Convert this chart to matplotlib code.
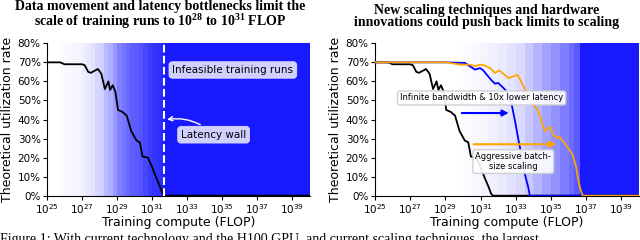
import matplotlib
matplotlib.use("Agg")
import matplotlib.pyplot as plt

# log10 of training compute (FLOP) and utilization (%)
base_x = [25.0, 25.75, 26.0, 27.0, 27.15, 27.35, 27.5, 27.7, 27.9, 28.1, 28.3, 28.5,
          28.6, 28.75, 28.9, 29.05, 29.3, 29.55, 29.8, 30.1, 30.3, 30.45, 30.75,
          30.95, 31.25, 31.45, 31.6, 31.7, 40.0]
base_y = [70, 70, 69, 69, 68.5, 65, 64.5, 65.5, 66.5, 64, 56, 60, 55.5, 58, 54.5,
          45, 44, 42, 34, 29, 28, 20.5, 20, 16, 9, 4.7, 1, 0, 0]

bw_x = [25.0, 29.0, 30.11, 30.4, 30.68, 30.97, 31.15, 31.35, 31.63, 31.82, 32.0,
        32.2, 32.4, 32.58, 32.77, 32.96, 33.15, 33.34, 33.5, 33.7, 33.8, 40.0]
bw_y = [70, 70, 69.7, 67.9, 66.2, 67.0, 65.8, 63.5, 60.5, 58.8, 59.2, 57.4, 55.6,
        53, 47.7, 39, 29.3, 20.5, 11.8, 4.7, 0, 0]

batch_x = [25.0, 29.0, 29.26, 29.83, 30.4, 30.68, 30.97, 31.25, 31.53, 31.82, 32.06,
           32.29, 32.58, 32.86, 33.1, 33.34, 33.62, 33.8, 34.1, 34.28, 34.47, 34.66,
           34.85, 34.99, 35.13, 35.32, 35.47, 35.7, 35.98, 36.23, 36.42, 36.55,
           36.68, 36.8, 40.0]
batch_y = [70, 70, 69.7, 68.8, 68.8, 67.9, 68.8, 68.3, 67, 64.4, 65.8, 64, 61.8,
           62.6, 63.5, 59.2, 53.9, 48.6, 46.8, 44.2, 38.9, 33.7, 35.5, 36, 32,
           30.2, 31, 28.4, 24.9, 21.4, 15.3, 8.3, 3, 0, 0]

# background shading: band edges (log10 FLOP) and intensity
left_edges = [25.0, 25.75, 26.0, 26.5, 27.0, 27.25, 27.5, 27.75, 28.0, 28.25, 28.5,
              28.75, 29.0, 29.25, 29.5, 29.75, 30.0, 30.25, 30.5, 30.75, 31.0,
              31.25, 31.5, 31.7, 40.0]
left_shade = [0.0, 0.02, 0.03, 0.05, 0.07, 0.1, 0.12, 0.18, 0.2, 0.3, 0.35, 0.45,
              0.55, 0.6, 0.65, 0.7, 0.72, 0.75, 0.8, 0.85, 0.88, 0.9, 0.95, 1.0]
right_edges = [25.0, 30.0, 30.5, 31.0, 31.5, 32.0, 32.5, 33.0, 33.5, 34.0, 34.5,
               35.0, 35.5, 36.0, 36.3, 36.65, 40.0]
right_shade = [0.0, 0.02, 0.03, 0.05, 0.07, 0.09, 0.12, 0.16, 0.24, 0.32, 0.4,
               0.48, 0.56, 0.64, 0.72, 1.0]

latency_wall = 31.7
yticks = [0, 10, 20, 30, 40, 50, 60, 70, 80]
xticks = [25, 27, 29, 31, 33, 35, 37, 39]

plt.rcParams['font.family'] = 'DejaVu Sans'

fig = plt.figure(figsize=(6.4, 2.4), dpi=100)
ax1 = fig.add_axes([47 / 640, 44.3 / 240, 263 / 640, 152.4 / 240])
ax2 = fig.add_axes([375 / 640, 44.3 / 240, 264 / 640, 152.4 / 240])


def shade(ax, edges, vals):
    for lo, hi, v in zip(edges[:-1], edges[1:], vals):
        if v > 0:
            ax.axvspan(10 ** lo, 10 ** hi, color='blue', alpha=0.9 * v, lw=0, zorder=0)


def style(ax, title, title_x):
    ax.set_xscale('log')
    ax.set_xlim(1e25, 1e40)
    ax.set_ylim(0, 80)
    ax.set_xticks([10.0 ** t for t in xticks])
    ax.set_xticklabels([f'$\\mathdefault{{10^{{{t}}}}}$' for t in xticks], fontsize=7.5)
    ax.xaxis.set_minor_locator(matplotlib.ticker.NullLocator())
    ax.set_yticks(yticks)
    ax.set_yticklabels([f'{t}%' for t in yticks], fontsize=7.5)
    ax.tick_params(length=3, width=0.8, pad=1.5)
    ax.spines['top'].set_visible(False)
    ax.spines['right'].set_visible(False)
    ax.set_xlabel('Training compute (FLOP)', fontsize=9, labelpad=0)
    ax.set_ylabel('Theoretical utilization rate', fontsize=9, labelpad=3)
    ax.set_title(title, fontsize=10, family='Liberation Serif', weight='bold',
                 linespacing=0.92, pad=12.5, x=title_x)


# left panel
shade(ax1, left_edges, left_shade)
ax1.plot([10 ** v for v in base_x], base_y, color='black', lw=1.3, zorder=3)
ax1.axvline(10 ** latency_wall, color='white', ls='--', lw=1.5, zorder=4)
ax1.text(10 ** 35.6, 66, 'Infeasible training runs', fontsize=7.5, ha='center',
         va='center', bbox=dict(boxstyle='round,pad=0.3', fc='white', ec='#e0e0ff',
                                alpha=0.8), zorder=5)
ax1.annotate('Latency wall', xy=(10 ** 31.85, 40), xytext=(10 ** 34.5, 32),
             fontsize=7.5, ha='center', va='center',
             bbox=dict(boxstyle='round,pad=0.3', fc='white', ec='#e0e0ff', alpha=0.8),
             arrowprops=dict(arrowstyle='->', color='white', lw=1.0,
                             connectionstyle='arc3,rad=0.25', shrinkA=2, shrinkB=0),
             zorder=5)
style(ax1, 'Data movement and latency bottlenecks limit the\n'
           r'scale of training runs to $\mathdefault{10^{28}}$ to '
           r'$\mathdefault{10^{31}}$ FLOP', 0.43)

# right panel
shade(ax2, right_edges, right_shade)
ax2.plot([10 ** v for v in base_x], base_y, color='black', lw=1.3, zorder=3)
ax2.plot([10 ** v for v in bw_x], bw_y, color='blue', lw=1.3, zorder=3)
ax2.plot([10 ** v for v in batch_x], batch_y, color='orange', lw=1.3, zorder=3)
ax2.annotate('', xy=(10 ** 32.6, 43.4), xytext=(10 ** 29.93, 43.4),
             arrowprops=dict(arrowstyle='-|>', color='blue', lw=1.5,
                             mutation_scale=9, shrinkA=0, shrinkB=0), zorder=4)
ax2.annotate('', xy=(10 ** 35.3, 27), xytext=(10 ** 30.6, 27),
             arrowprops=dict(arrowstyle='-|>', color='orange', lw=1.5,
                             mutation_scale=9, shrinkA=0, shrinkB=0), zorder=4)
ax2.text(10 ** 31.06, 51.3, 'Infinite bandwidth & 10x lower latency', fontsize=6,
         ha='center', va='center',
         bbox=dict(boxstyle='round,pad=0.3', fc='white', ec='#cccccc', alpha=0.9),
         zorder=5)
ax2.text(10 ** 32.86, 17.9, 'Aggressive batch-\nsize scaling', fontsize=6,
         ha='center', va='center', linespacing=1.1,
         bbox=dict(boxstyle='round,pad=0.3', fc='white', ec='#cccccc', alpha=0.9),
         zorder=5)
style(ax2, 'New scaling techniques and hardware\n'
           'innovations could push back limits to scaling', 0.424)

fig.text(0.0, 0.03, "Figure 1: With current technology and the H100 GPU, "
         "and current scaling techniques, the largest",
         fontsize=10, family='Liberation Serif', va='top', ha='left')

fig.savefig('out.png', dpi=100)
